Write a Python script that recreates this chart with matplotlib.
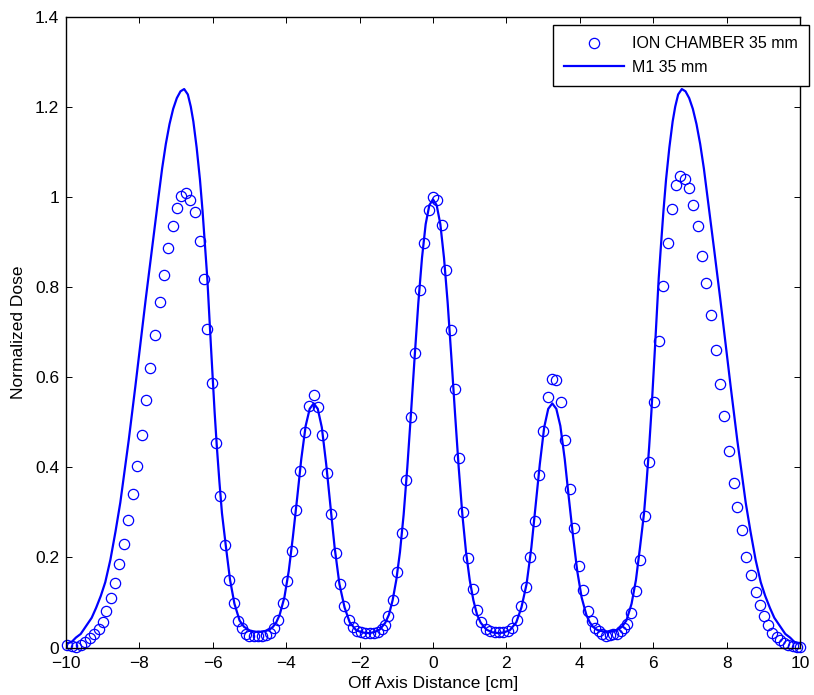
import matplotlib
matplotlib.use("Agg")
from matplotlib import pyplot as plt

plt.rcParams["font.family"] = ["Liberation Sans", "DejaVu Sans"]

ion_x = [-9.96, -9.84, -9.72, -9.59, -9.47, -9.35, -9.23, -9.11, -9.00, -8.90,
         -8.77, -8.66, -8.55, -8.43, -8.30, -8.18, -8.06, -7.94, -7.82, -7.70,
         -7.57, -7.45, -7.33, -7.22, -7.09, -6.98, -6.87, -6.74, -6.62, -6.49,
         -6.36, -6.25, -6.15, -6.03, -5.91, -5.80, -5.67, -5.55, -5.43, -5.31,
         -5.20, -5.09, -5.00, -4.89, -4.77, -4.65, -4.55, -4.44, -4.33, -4.22,
         -4.09, -3.97, -3.85, -3.74, -3.62, -3.49, -3.38, -3.25, -3.14, -3.02,
         -2.90, -2.77, -2.65, -2.54, -2.42, -2.30, -2.18, -2.08, -1.96, -1.84,
         -1.73, -1.61, -1.50, -1.40, -1.32, -1.22, -1.10, -0.97, -0.85, -0.73,
         -0.60, -0.48, -0.36, -0.24, -0.12, 0.00, 0.12, 0.24, 0.35, 0.48,
         0.60, 0.72, 0.83, 0.96, 1.08, 1.21, 1.31, 1.44, 1.56, 1.68,
         1.80, 1.91, 2.03, 2.14, 2.28, 2.40, 2.53, 2.64, 2.77, 2.89,
         3.00, 3.13, 3.24, 3.35, 3.48, 3.60, 3.73, 3.85, 3.97, 4.08,
         4.22, 4.33, 4.42, 4.51, 4.60, 4.71, 4.81, 4.91, 5.02, 5.12,
         5.21, 5.29, 5.40, 5.53, 5.65, 5.77, 5.88, 6.01, 6.16, 6.27,
         6.39, 6.50, 6.61, 6.73, 6.87, 6.98, 7.09, 7.21, 7.34, 7.45,
         7.57, 7.70, 7.81, 7.93, 8.06, 8.19, 8.29, 8.41, 8.54, 8.66,
         8.79, 8.90, 9.02, 9.14, 9.25, 9.36, 9.46, 9.57, 9.68, 9.80,
         9.91, 10.00]
ion_y = [0.005, 0.003, 0.002, 0.005, 0.012, 0.020, 0.030, 0.041, 0.057, 0.080,
         0.109, 0.144, 0.186, 0.230, 0.284, 0.341, 0.402, 0.472, 0.549, 0.620,
         0.695, 0.768, 0.827, 0.888, 0.935, 0.977, 1.003, 1.010, 0.994, 0.968,
         0.902, 0.819, 0.707, 0.587, 0.454, 0.336, 0.228, 0.150, 0.099, 0.059,
         0.044, 0.030, 0.026, 0.026, 0.026, 0.026, 0.027, 0.032, 0.044, 0.062,
         0.098, 0.148, 0.215, 0.306, 0.392, 0.478, 0.537, 0.560, 0.533, 0.472,
         0.388, 0.297, 0.210, 0.141, 0.093, 0.062, 0.046, 0.037, 0.035, 0.033,
         0.033, 0.033, 0.035, 0.040, 0.049, 0.070, 0.105, 0.167, 0.255, 0.373,
         0.512, 0.655, 0.794, 0.898, 0.972, 1.000, 0.993, 0.938, 0.839, 0.704,
         0.575, 0.421, 0.301, 0.199, 0.129, 0.083, 0.056, 0.042, 0.037, 0.035,
         0.035, 0.035, 0.036, 0.043, 0.062, 0.093, 0.134, 0.200, 0.281, 0.384,
         0.481, 0.556, 0.597, 0.595, 0.545, 0.460, 0.353, 0.266, 0.180, 0.127,
         0.082, 0.059, 0.044, 0.036, 0.030, 0.026, 0.028, 0.030, 0.031, 0.036,
         0.043, 0.052, 0.076, 0.126, 0.195, 0.293, 0.412, 0.545, 0.681, 0.803,
         0.899, 0.974, 1.027, 1.047, 1.041, 1.021, 0.982, 0.937, 0.870, 0.809,
         0.738, 0.661, 0.585, 0.513, 0.436, 0.366, 0.313, 0.261, 0.201, 0.162,
         0.124, 0.094, 0.070, 0.050, 0.033, 0.024, 0.016, 0.010, 0.005, 0.003,
         0.002, 0.001]

# M1 calculated profile
m1_x = [-10.00, -9.85, -9.73, -9.60, -9.45, -9.30, -9.18, -9.05, -8.93, -8.79,
        -8.65, -8.52, -8.40, -8.29, -8.11, -7.97, -7.83, -7.66, -7.49, -7.38,
        -7.28, -7.18, -7.08, -6.98, -6.88, -6.78, -6.68, -6.60, -6.53, -6.44,
        -6.35, -6.28, -6.21, -6.15, -6.10, -6.05, -6.00, -5.95, -5.89, -5.82,
        -5.75, -5.64, -5.53, -5.41, -5.27, -5.15, -5.00, -4.85, -4.70, -4.55,
        -4.45, -4.36, -4.27, -4.18, -4.05, -3.93, -3.82, -3.70, -3.59, -3.47,
        -3.36, -3.25, -3.14, -3.03, -2.91, -2.79, -2.68, -2.55, -2.41, -2.27,
        -2.09, -1.90, -1.75, -1.60, -1.45, -1.30, -1.20, -1.10, -1.00, -0.90,
        -0.80, -0.70, -0.60, -0.50, -0.40, -0.30, -0.20, -0.10, 0.00,
        0.10, 0.20, 0.30, 0.40, 0.50, 0.60, 0.70, 0.80, 0.90, 1.00,
        1.10, 1.20, 1.30, 1.45, 1.60, 1.75, 1.90, 2.09, 2.27, 2.41,
        2.55, 2.68, 2.79, 2.91, 3.03, 3.14, 3.25, 3.36, 3.47, 3.59,
        3.70, 3.82, 3.93, 4.05, 4.18, 4.27, 4.36, 4.45, 4.55, 4.70,
        4.85, 5.00, 5.15, 5.27, 5.41, 5.53, 5.64, 5.75, 5.82, 5.89,
        5.95, 6.00, 6.05, 6.10, 6.15, 6.21, 6.28, 6.35, 6.44, 6.53,
        6.60, 6.68, 6.78, 6.88, 6.98, 7.08, 7.18, 7.28, 7.38, 7.49,
        7.66, 7.83, 7.97, 8.11, 8.29, 8.40, 8.52, 8.65, 8.79, 8.93,
        9.05, 9.18, 9.30, 9.45, 9.60, 9.73, 9.85, 10.00]
m1_y = [0.009, 0.012, 0.022, 0.030, 0.048, 0.066, 0.088, 0.115, 0.145, 0.195,
        0.258, 0.322, 0.395, 0.461, 0.580, 0.676, 0.772, 0.884, 0.994, 1.064,
        1.118, 1.162, 1.196, 1.220, 1.235, 1.240, 1.228, 1.201, 1.168, 1.110,
        1.039, 0.970, 0.891, 0.820, 0.743, 0.668, 0.594, 0.522, 0.446, 0.368,
        0.298, 0.222, 0.150, 0.097, 0.060, 0.046, 0.038, 0.035, 0.035, 0.037,
        0.040, 0.046, 0.056, 0.072, 0.111, 0.170, 0.244, 0.333, 0.418, 0.492,
        0.530, 0.542, 0.530, 0.489, 0.407, 0.311, 0.222, 0.141, 0.089, 0.056,
        0.038, 0.033, 0.032, 0.034, 0.040, 0.055, 0.073, 0.105, 0.150, 0.212,
        0.295, 0.400, 0.520, 0.645, 0.765, 0.865, 0.940, 0.982, 0.995,
        0.982, 0.940, 0.865, 0.765, 0.645, 0.520, 0.400, 0.295, 0.212, 0.150,
        0.105, 0.073, 0.055, 0.040, 0.034, 0.032, 0.033, 0.038, 0.056, 0.089,
        0.141, 0.222, 0.311, 0.407, 0.489, 0.530, 0.542, 0.530, 0.492, 0.418,
        0.333, 0.244, 0.170, 0.111, 0.072, 0.056, 0.046, 0.040, 0.037, 0.035,
        0.035, 0.038, 0.046, 0.060, 0.097, 0.150, 0.222, 0.298, 0.368, 0.446,
        0.522, 0.594, 0.668, 0.743, 0.820, 0.891, 0.970, 1.039, 1.110, 1.168,
        1.201, 1.228, 1.240, 1.235, 1.220, 1.196, 1.162, 1.118, 1.064, 0.994,
        0.884, 0.772, 0.676, 0.580, 0.461, 0.395, 0.322, 0.258, 0.195, 0.145,
        0.115, 0.088, 0.066, 0.048, 0.030, 0.022, 0.012, 0.009]

x_ticks = [-10, -8, -6, -4, -2, 0, 2, 4, 6, 8, 10]
x_tick_labels = ["\u221210", "\u22128", "\u22126", "\u22124", "\u22122",
                 "0", "2", "4", "6", "8", "10"]
y_ticks = [0, 0.2, 0.4, 0.6, 0.8, 1.0, 1.2, 1.4]
y_tick_labels = ["0", "0.2", "0.4", "0.6", "0.8", "1", "1.2", "1.4"]

W, H = 814, 695
fig = plt.figure(figsize=(W / 100, H / 100), dpi=100)
ax = fig.add_axes([66 / W, 1 - 647.5 / H, (800 - 66) / W, (647.5 - 17) / H])

ax.plot(ion_x, ion_y, linestyle="none", marker="o", markersize=7.4,
        markerfacecolor="none", markeredgecolor="#0000ff", markeredgewidth=0.9,
        clip_on=False, label="ION CHAMBER 35 mm")
ax.plot(m1_x, m1_y, color="#0000ff", linewidth=1.6, label="M1 35 mm")

ax.set_xlim(-10, 10)
ax.set_ylim(0, 1.4)
ax.set_xticks(x_ticks)
ax.set_xticklabels(x_tick_labels)
ax.set_yticks(y_ticks)
ax.set_yticklabels(y_tick_labels)
ax.tick_params(direction="in", top=True, right=True, length=4.5, width=0.7,
               labelsize=12.5, colors="black")
ax.tick_params(axis="x", pad=6)
ax.tick_params(axis="y", pad=5)
for s in ax.spines.values():
    s.set_linewidth(1.0)
    s.set_color("black")

ax.set_xlabel("Off Axis Distance [cm]", fontsize=12.5, labelpad=4)
ax.set_ylabel("Normalized Dose", fontsize=12.5, labelpad=6)

leg = ax.legend(loc="upper left", bbox_to_anchor=(553 / W, 1 - 25 / H),
                bbox_transform=fig.transFigure, borderaxespad=0, fontsize=11.5,
                fancybox=False, framealpha=1, edgecolor="black",
                handlelength=3.75, handletextpad=0.5, borderpad=0.7,
                labelspacing=0.55)
leg.get_frame().set_linewidth(1.0)

fig.savefig("out.png", dpi=100)
